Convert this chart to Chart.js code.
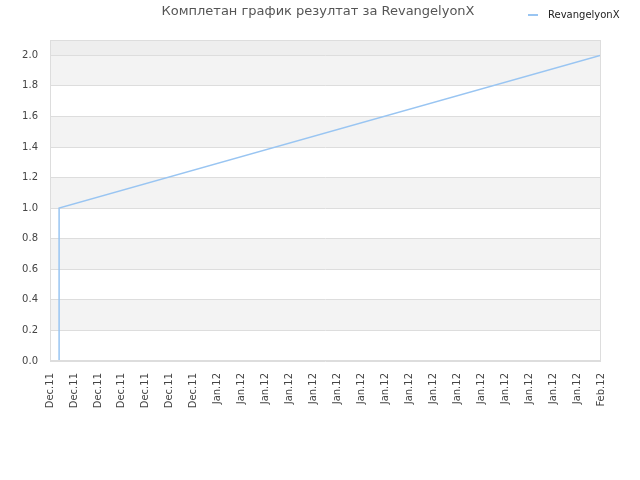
<!DOCTYPE html>
<html>
<head>
<meta charset="utf-8">
<script src="https://cdn.jsdelivr.net/npm/chart.js@4/dist/chart.umd.min.js"></script>
<style>
  html, body { margin: 0; padding: 0; background: #fff; }
  #wrap { width: 640px; height: 480px; }
</style>
</head>
<body>
<div id="wrap"><canvas id="myChart" width="640" height="480"></canvas></div>
<script>
// tick labels along the bottom, one per step
const xLabels = ["Dec.11", "Dec.11", "Dec.11", "Dec.11", "Dec.11", "Dec.11", "Dec.11",
    "Jan.12", "Jan.12", "Jan.12", "Jan.12", "Jan.12", "Jan.12", "Jan.12", "Jan.12",
    "Jan.12", "Jan.12", "Jan.12", "Jan.12", "Jan.12", "Jan.12", "Jan.12", "Jan.12",
    "Feb.12"];
// points of the series, x is position on the label axis
const seriesX = [0.38, 0.38, 23];
const seriesY = [0, 1.0, 2.0];
const seriesName = "RevangelyonX";
const chartTitle = "Комплетан график резултат за RevangelyonX";

const FONT = "'DejaVu Sans', sans-serif";

var points = [];
for (var i = 0; i < seriesX.length; i++) {
    points.push({ x: seriesX[i], y: seriesY[i] });
}

// striped background, border, title and legend
const decor = {
    id: 'decor',
    beforeDraw(chart) {
        var ctx = chart.ctx;
        var a = chart.chartArea;
        var y = chart.scales.y;
        ctx.save();
        for (var v = 0; v < 2.1; v += 0.2) {
            var band = Math.round(v * 5);
            if (band % 2 == 1) {
                var top = y.getPixelForValue(Math.min(v + 0.2, 2.1));
                var bot = y.getPixelForValue(v);
                ctx.fillStyle = "#f3f3f3";
                ctx.fillRect(a.left, top, a.right - a.left, bot - top);
            }
        }
        var t = y.getPixelForValue(2.1), b = y.getPixelForValue(2.0);
        ctx.fillStyle = "#eeeeee";
        ctx.fillRect(a.left, t, a.right - a.left, b - t);
        ctx.restore();
    },
    afterDraw(chart) {
        var ctx = chart.ctx;
        var a = chart.chartArea;
        ctx.save();
        ctx.strokeStyle = "#dddddd";
        ctx.lineWidth = 1;
        ctx.strokeRect(a.left + 0.5, a.top + 0.5, a.right - a.left - 1, a.bottom - a.top - 1);

        ctx.fillStyle = "#555555";
        ctx.font = "13px " + FONT;
        ctx.textAlign = "center";
        ctx.textBaseline = "middle";
        ctx.fillText(chartTitle, 318, 12);

        ctx.fillStyle = "#99c5f2";
        ctx.fillRect(528, 14, 10, 2);
        ctx.fillStyle = "#222222";
        ctx.font = "10px " + FONT;
        ctx.textAlign = "left";
        ctx.fillText(seriesName, 548, 15);
        ctx.restore();
    }
};

var myChart = new Chart(document.getElementById("myChart"), {
    type: 'line',
    data: {
        datasets: [{
            label: seriesName,
            data: points,
            borderColor: "#99c5f2",
            borderWidth: 1.5,
            pointRadius: 0,
            fill: false,
            tension: 0
        }]
    },
    options: {
        responsive: false,
        animation: false,
        layout: { padding: { top: 40, right: 39, left: 0, bottom: 0 } },
        plugins: {
            legend: { display: false },
            title: { display: false },
            tooltip: { enabled: false }
        },
        scales: {
            x: {
                type: 'linear',
                min: 0,
                max: xLabels.length - 1,
                afterFit(scale) { scale.height = 119; },
                grid: { display: false },
                border: { display: false },
                ticks: {
                    stepSize: 1,
                    autoSkip: false,
                    minRotation: 90,
                    maxRotation: 90,
                    padding: 4,
                    color: "#444444",
                    font: { family: FONT, size: 10 },
                    callback: function (value) { return xLabels[value]; }
                }
            },
            y: {
                min: 0,
                max: 2.1,
                afterFit(scale) { scale.width = 50; },
                afterBuildTicks(scale) {
                    scale.ticks = scale.ticks.filter(t => t.value <= 2.0001);
                },
                grid: { color: "#dddddd", drawTicks: false },
                border: { display: false },
                ticks: {
                    stepSize: 0.2,
                    padding: 12,
                    color: "#444444",
                    font: { family: FONT, size: 10 },
                    callback: function (value) { return value.toFixed(1); }
                }
            }
        }
    },
    plugins: [decor]
});
</script>
</body>
</html>
